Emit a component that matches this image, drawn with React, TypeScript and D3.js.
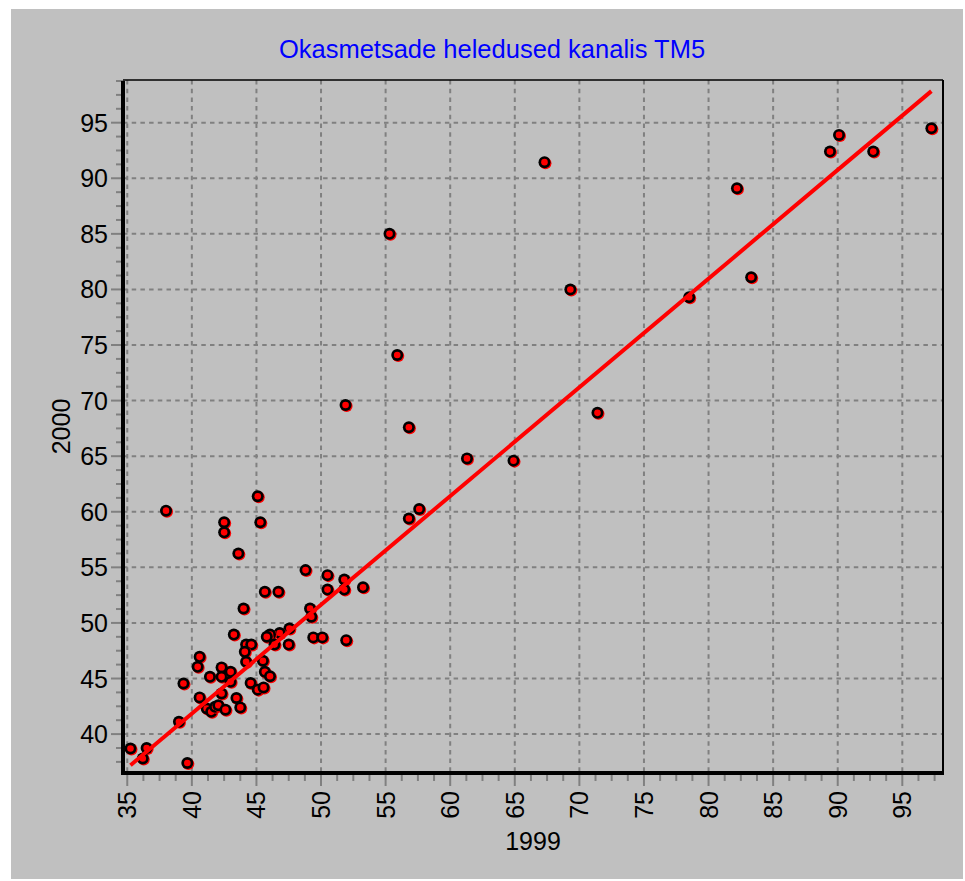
import React from "react";
import * as d3 from "d3";

// Brightness of spruce stands in TM band 5, 1999 vs 2000
const x1999: number[] = [
  38.0, 45.1, 42.5, 42.5, 45.3, 43.6, 51.9, 55.3, 55.9, 56.8, 56.8, 57.6,
  61.3, 64.9, 67.3, 69.3, 71.4, 78.5, 82.2, 83.3, 89.4, 90.1, 92.75, 97.25,
  48.8, 50.5, 50.5, 51.8, 51.8, 53.25, 45.65, 46.7, 44.0, 49.15, 49.25,
  51.95, 49.4, 50.1, 47.55, 46.8, 46.05, 45.8, 47.5, 46.4, 43.25, 44.2, 44.6,
  44.1, 44.2, 45.5, 45.65, 46.05, 44.55, 45.1, 45.55,
  40.6, 40.45, 39.35, 41.4, 42.3, 42.3, 43.0, 43.0, 40.6, 41.15, 41.5, 41.8,
  42.05, 42.6, 42.3, 43.45, 43.75, 39.0, 35.25, 36.5, 36.2, 39.65,
];
const y2000: number[] = [
  60.1, 61.4, 59.05, 58.15, 59.05, 56.25, 69.6, 85.0, 74.1, 67.6, 59.4, 60.25,
  64.8, 64.6, 91.45, 80.0, 68.9, 79.3, 89.1, 81.1, 92.4, 93.9, 92.4, 94.5,
  54.75, 54.3, 53.0, 53.9, 53.0, 53.2, 52.8, 52.8, 51.3, 51.3, 50.55,
  48.45, 48.7, 48.7, 49.5, 49.1, 48.95, 48.75, 48.05, 48.05, 48.95, 48.05, 48.05,
  47.4, 46.5, 46.6, 45.6, 45.2, 44.6, 44.0, 44.2,
  46.95, 46.05, 44.55, 45.15, 46.0, 45.15, 45.6, 44.7, 43.3, 42.3, 42.0, 42.45,
  42.6, 42.2, 43.65, 43.25, 42.4, 41.1, 38.7, 38.75, 37.8, 37.4,
];

// trend line: 2000 = fitIntercept + fitSlope * 1999
const fitSlope = 0.978;
const fitIntercept = 2.73;

const xTicks: number[] = [35, 40, 45, 50, 55, 60, 65, 70, 75, 80, 85, 90, 95];
const xTickLabels: string[] = ["35", "40", "45", "50", "55", "60", "65", "70", "75", "80", "85", "90", "95"];
const yTicks: number[] = [40, 45, 50, 55, 60, 65, 70, 75, 80, 85, 90, 95];
const yTickLabels: string[] = ["40", "45", "50", "55", "60", "65", "70", "75", "80", "85", "90", "95"];

const titleText = "Okasmetsade heledused kanalis TM5";
const xTitle = "1999";
const yTitle = "2000";

const W = 965;
const H = 881;
const plot = { left: 123, top: 80, right: 943, bottom: 773 };
const font = "'Liberation Sans', Arial, sans-serif";
const GRID = "#808080";

export default function App() {
  const x = d3.scaleLinear().domain([34.67, 98.15]).range([plot.left, plot.right]);
  const y = d3.scaleLinear().domain([36.5, 98.84]).range([plot.bottom, plot.top]);

  const [xd0, xd1] = x.domain();
  const [yd0, yd1] = y.domain();
  const xMinor = d3.range(30, 100, 1.25).filter((v) => v >= xd0 && v <= xd1 && v % 5 !== 0);
  const yMinor = d3.range(30, 100, 1.25).filter((v) => v >= yd0 && v <= yd1 && v % 5 !== 0);

  const pts = x1999.map((v, i) => [v, y2000[i]] as [number, number]);
  const [fx0, fx1] = d3.extent(x1999) as [number, number];
  const fitLine = d3.line<number>()
    .x((v) => x(v))
    .y((v) => y(fitIntercept + fitSlope * v));

  return (
    <svg width={W} height={H} style={{ position: "absolute", left: 0, top: 0, background: "#fff" }}>
      <rect x={11} y={9} width={952} height={870} fill="#c0c0c0" />
      <text x={492} y={58} textAnchor="middle" fontFamily={font} fontSize={25.5} fill="#0000ff">
        {titleText}
      </text>

      {/* grid */}
      <g stroke={GRID} strokeWidth={2} strokeDasharray="4.5,4.2">
        {xTicks.map((t) => (
          <line key={"gx" + t} x1={x(t)} x2={x(t)} y1={plot.top} y2={plot.bottom} />
        ))}
        {yTicks.map((t) => (
          <line key={"gy" + t} x1={plot.left} x2={plot.right} y1={y(t)} y2={y(t)} />
        ))}
      </g>

      {/* tick marks */}
      <g stroke={GRID} strokeWidth={2}>
        {xTicks.map((t) => (
          <line key={"tx" + t} x1={x(t)} x2={x(t)} y1={plot.bottom} y2={plot.bottom + 13} />
        ))}
        {xMinor.map((t) => (
          <line key={"mx" + t} x1={x(t)} x2={x(t)} y1={plot.bottom} y2={plot.bottom + 8} />
        ))}
        {yTicks.map((t) => (
          <line key={"ty" + t} x1={plot.left - 12} x2={plot.left} y1={y(t)} y2={y(t)} />
        ))}
        {yMinor.map((t) => (
          <line key={"my" + t} x1={plot.left - 7} x2={plot.left} y1={y(t)} y2={y(t)} />
        ))}
      </g>

      {/* frame */}
      <line x1={plot.left} x2={plot.right} y1={plot.top} y2={plot.top} stroke="#000" strokeWidth={1.5} />
      <line x1={plot.right} x2={plot.right} y1={plot.top} y2={plot.bottom} stroke="#000" strokeWidth={2} />
      <line x1={plot.left} x2={plot.left} y1={plot.top + 1} y2={plot.bottom + 2} stroke="#000" strokeWidth={4} />
      <line x1={plot.left - 2} x2={plot.right + 1} y1={plot.bottom} y2={plot.bottom} stroke="#000" strokeWidth={4} />

      {/* tick labels */}
      <g fontFamily={font} fontSize={25} fill="#000">
        {xTicks.map((t, i) => (
          <text key={"lx" + t} transform={`translate(${x(t) + 9},${plot.bottom + 18}) rotate(-90)`} textAnchor="end">
            {xTickLabels[i]}
          </text>
        ))}
        {yTicks.map((t, i) => (
          <text key={"ly" + t} x={plot.left - 15} y={y(t) + 9} textAnchor="end">
            {yTickLabels[i]}
          </text>
        ))}
      </g>

      <text x={(plot.left + plot.right) / 2} y={850} textAnchor="middle" fontFamily={font} fontSize={25}>
        {xTitle}
      </text>
      <text transform={`translate(70,${(plot.top + plot.bottom) / 2}) rotate(-90)`} textAnchor="middle" fontFamily={font} fontSize={25}>
        {yTitle}
      </text>

      {/* points */}
      <g>
        {pts.map(([a, b], i) => (
          <g key={"p" + i} transform={`translate(${x(a)},${y(b)})`}>
            <circle cx={1} cy={1} r={6} fill="#ff0000" />
            <circle r={6} fill="#000" />
            <circle r={3.3} fill="#ff0000" />
          </g>
        ))}
      </g>

      <path d={fitLine([fx0, fx1]) ?? ""} fill="none" stroke="#ff0000" strokeWidth={4} />
    </svg>
  );
}
